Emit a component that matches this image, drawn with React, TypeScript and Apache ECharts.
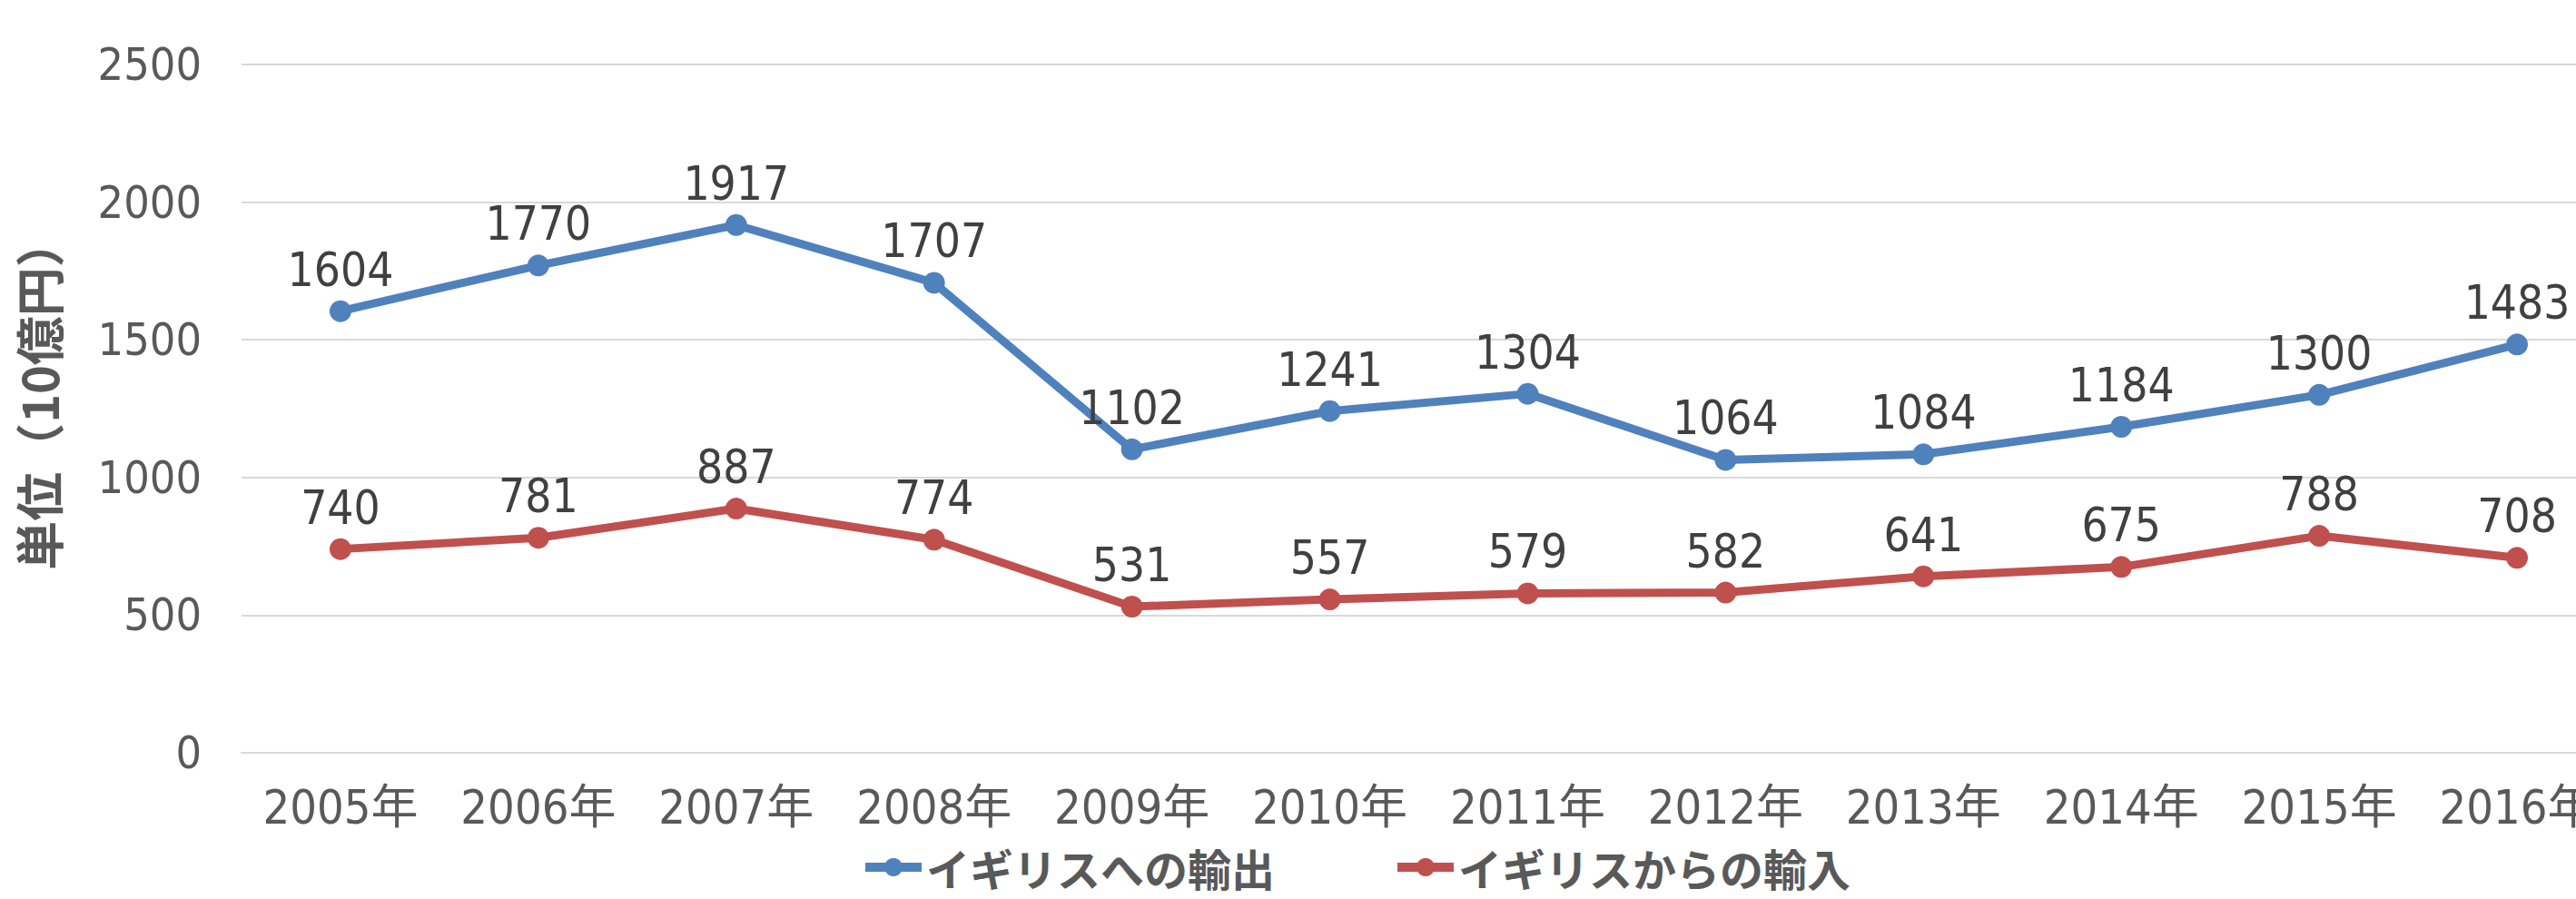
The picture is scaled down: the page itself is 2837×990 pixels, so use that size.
import React, { useEffect, useRef } from "react";
import * as echarts from "echarts";

const categories = ["2005年", "2006年", "2007年", "2008年", "2009年", "2010年", "2011年", "2012年", "2013年", "2014年", "2015年", "2016年"];
const exportsToUK = [1604, 1770, 1917, 1707, 1102, 1241, 1304, 1064, 1084, 1184, 1300, 1483];
const importsFromUK = [740, 781, 887, 774, 531, 557, 579, 582, 641, 675, 788, 708];
const seriesNames = ["イギリスへの輸出", "イギリスからの輸入"];
const yAxisTitle = "単位（10億円）";

const NARROW = '"DejaVu Sans Condensed", "Liberation Sans Narrow", "Noto Sans CJK JP", sans-serif';
const CJK = '"Noto Sans CJK JP", "Noto Sans", sans-serif';

export default function App() {
  const ref = useRef<HTMLDivElement>(null);
  useEffect(() => {
    document.body.style.margin = "0";
    document.body.style.overflow = "hidden";
    document.documentElement.style.overflow = "hidden";
    if (!ref.current) return;
    const chart = echarts.init(ref.current, null, { renderer: "svg" });
    const labelStyle = {
      show: true,
      position: "top" as const,
      distance: 8,
      color: "#404040",
      fontSize: 51,
      fontFamily: NARROW,
    };
    chart.setOption({
      animation: false,
      backgroundColor: "#ffffff",
      grid: { left: 266, right: 0, top: 71, bottom: 161, containLabel: false },
      legend: {
        left: 943,
        top: 926,
        itemWidth: 62,
        itemHeight: 25,
        itemGap: 130,
        lineStyle: { width: 10 },
        textStyle: { color: "#595959", fontSize: 48, fontFamily: CJK, fontWeight: "bold" },
        data: seriesNames,
      },
      xAxis: {
        type: "category",
        data: categories,
        boundaryGap: true,
        axisLine: { show: true, lineStyle: { color: "#D9D9D9", width: 2 } },
        axisTick: { show: false },
        axisLabel: { interval: 0, margin: 34, color: "#595959", fontSize: 52, fontFamily: NARROW },
      },
      yAxis: {
        type: "value",
        min: 0,
        max: 2500,
        interval: 500,
        name: yAxisTitle,
        nameLocation: "middle",
        nameRotate: 90,
        nameGap: 198,
        nameTextStyle: {
          color: "#595959",
          fontSize: 54,
          fontFamily: CJK,
          fontWeight: "bold",
          padding: [0, 0, 0, 32],
        },
        axisLine: { show: false },
        axisTick: { show: false },
        axisLabel: {
          margin: 44,
          color: "#595959",
          fontSize: 50,
          fontFamily: NARROW,
          formatter: (v: number) => String(v),
        },
        splitLine: { lineStyle: { color: "#D9D9D9", width: 2 } },
      },
      series: [
        {
          name: seriesNames[0],
          type: "line",
          data: exportsToUK,
          symbol: "circle",
          symbolSize: 24,
          color: "#4F81BD",
          lineStyle: { width: 9, color: "#4F81BD" },
          itemStyle: { color: "#4F81BD" },
          label: labelStyle,
        },
        {
          name: seriesNames[1],
          type: "line",
          data: importsFromUK,
          symbol: "circle",
          symbolSize: 24,
          color: "#C0504D",
          lineStyle: { width: 9, color: "#C0504D" },
          itemStyle: { color: "#C0504D" },
          label: labelStyle,
        },
      ],
    });
    return () => chart.dispose();
  }, []);
  return <div ref={ref} style={{ width: 2881, height: 990 }} />;
}
